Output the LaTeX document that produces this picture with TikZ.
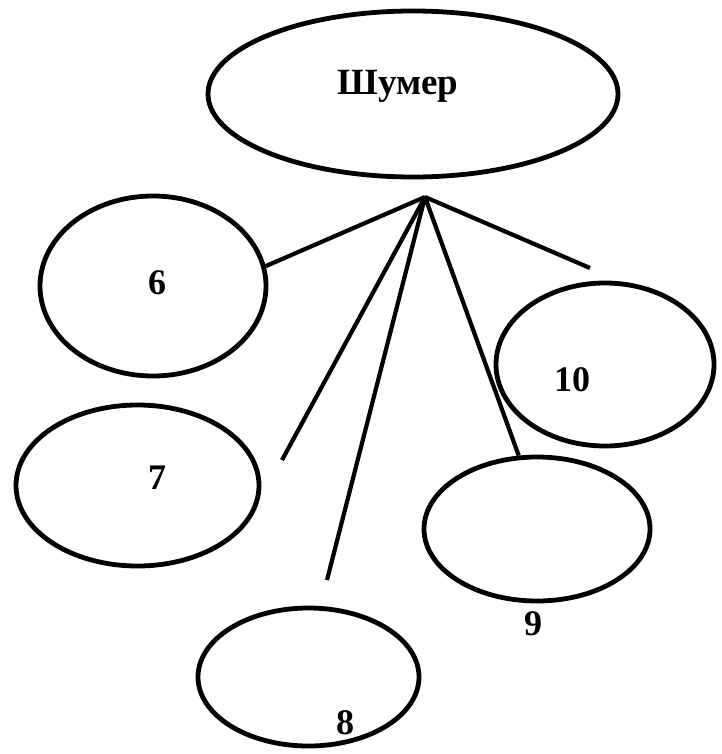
\documentclass[tikz,border=0pt]{standalone}
\usepackage{fontspec}
\setmainfont{Liberation Serif}
\usetikzlibrary{shapes.geometric}
\begin{document}
\begin{tikzpicture}[x=1pt,y=-1pt,
  oval/.style={draw=black,ellipse,line width=4.8pt,inner sep=0pt,fill=white},
  lbl/.style={font=\bfseries\fontsize{36}{36}\selectfont,inner sep=0pt},
  link/.style={draw=black,line width=4.2pt}]
\useasboundingbox[fill=white] (0,0) rectangle (721,754);
\node[oval,minimum width=410pt,minimum height=166pt] (top) at (413,94) {};
\node[lbl,font=\bfseries\fontsize{37}{37}\selectfont] (toplbl) at (398,86) {Шумер};
\node[oval,minimum width=226pt,minimum height=180pt] (e6) at (153,286) {};
\node[oval,minimum width=243pt,minimum height=161pt] (e7) at (137.5,485.5) {};
\node[oval,minimum width=221pt,minimum height=138pt] (e8) at (308.5,677) {};
\node[oval,minimum width=226pt,minimum height=144pt] (e9) at (537,529) {};
\node[oval,minimum width=218pt,minimum height=163pt] (e10) at (605,364.5) {};
\node[lbl] (l6) at (157,283) {6};
\node[lbl] (l7) at (157,478) {7};
\node[lbl] (l8) at (345,723) {8};
\node[lbl] (l9) at (533,624) {9};
\node[lbl] (l10) at (572,380) {10};
\coordinate (hub) at (425,197);
\coordinate (end7) at (282,460);
\coordinate (end8) at (327,580);
\coordinate (end10) at (590,268);
\draw[link] (hub) -- (e6.10);
\draw[link] (hub) -- (end7);
\draw[link] (hub) -- (end8);
\draw[link] (hub) -- (e9.104);
\draw[link] (hub) -- (end10);
\end{tikzpicture}
\end{document}
